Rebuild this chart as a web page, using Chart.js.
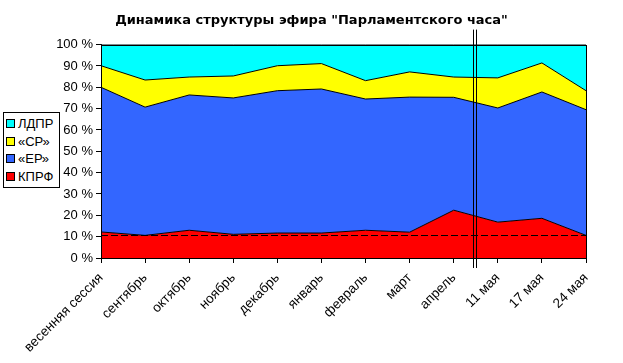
<!DOCTYPE html>
<html>
<head>
<meta charset="utf-8">
<script src="https://cdn.jsdelivr.net/npm/chart.js@4/dist/chart.umd.min.js"></script>
<style>
  html, body { margin: 0; padding: 0; background: #fff; }
  #wrap { position: relative; width: 623px; height: 363px; }
  #legend {
    position: absolute; left: 3px; top: 112px; width: 57px;
    border: 1px solid #000; background: #fff;
    font: 13px Arial, 'Liberation Sans', sans-serif; color: #000;
    padding: 2px 0 2px 2px; box-sizing: border-box;
  }
  #legend div { height: 17.5px; line-height: 17.5px; white-space: nowrap; }
  #legend span {
    display: inline-block; width: 7px; height: 7px; border: 1px solid #000;
    margin-right: 3px; vertical-align: 0px;
  }
</style>
</head>
<body>
<div id="wrap">
  <canvas id="chart" width="623" height="363"></canvas>
  <div id="legend"></div>
</div>
<script>
const LABELS = ['весенняя сессия', 'сентябрь', 'октябрь', 'ноябрь', 'декабрь', 'январь',
  'февраль', 'март', 'апрель', '11 мая', '17 мая', '24 мая']

// shares, %
const KPRF = [12.2, 10.6, 13.0, 11.1, 11.7, 11.7, 13.0, 12.1, 22.4, 16.8, 18.6, 10.6]
const ER = [67.8, 60.1, 63.4, 63.9, 66.7, 67.5, 61.5, 63.3, 52.9, 53.5, 59.2, 58.9]
const SR = [10.1, 12.7, 8.4, 10.3, 11.7, 11.9, 8.6, 11.8, 9.5, 14.1, 13.6, 8.9]
const LDPR = [9.9, 16.6, 15.2, 14.7, 9.9, 8.9, 16.9, 12.8, 15.2, 15.6, 8.6, 21.6]

const Y_TICKS = [0, 10, 20, 30, 40, 50, 60, 70, 80, 90, 100]
const DASH_LEVEL = 10.7      // dashed reference line, %
const SEPARATOR_AT = 8.45    // double line between "апрель" and "11 мая"

const RED = '#ff0000'
const BLUE = '#3366ff'
const YELLOW = '#ffff00'
const CYAN = '#00ffff'

const series = [
  { label: 'КПРФ', data: KPRF, color: RED },
  { label: '«ЕР»', data: ER, color: BLUE },
  { label: '«СР»', data: SR, color: YELLOW },
  { label: 'ЛДПР', data: LDPR, color: CYAN },
]

// legend, top to bottom
const legend = document.getElementById('legend')
for (const s of [...series].reverse()) {
  const row = document.createElement('div')
  row.innerHTML = `<span style="background:${s.color}"></span>${s.label}`
  legend.appendChild(row)
}

const extras = {
  id: 'extras',
  afterDatasetsDraw(chart) {
    const { ctx, chartArea: a, scales: { x, y } } = chart
    ctx.save()
    ctx.strokeStyle = '#000'
    ctx.lineWidth = 1

    // dashed level
    const yd = Math.round(y.getPixelForValue(DASH_LEVEL)) + 0.5
    ctx.setLineDash([7, 3])
    ctx.beginPath()
    ctx.moveTo(a.left, yd)
    ctx.lineTo(a.right, yd)
    ctx.stroke()
    ctx.setLineDash([])

    // plot border
    ctx.strokeRect(Math.round(a.left) + 0.5, Math.round(a.top) + 0.5,
      Math.round(a.right - a.left), Math.round(a.bottom - a.top))

    // double separator
    const p0 = x.getPixelForValue(8), p1 = x.getPixelForValue(9)
    const xs = Math.round(p0 + (p1 - p0) * (SEPARATOR_AT - 8))
    for (const dx of [-1, 2]) {
      ctx.beginPath()
      ctx.moveTo(xs + dx + 0.5, a.top - 15)
      ctx.lineTo(xs + dx + 0.5, a.bottom + 10)
      ctx.stroke()
    }
    ctx.restore()
  }
}

new Chart(document.getElementById('chart'), {
  type: 'line',
  data: {
    labels: LABELS,
    datasets: series.map((s, i) => ({
      label: s.label,
      data: s.data,
      backgroundColor: s.color,
      borderColor: '#000',
      borderWidth: 1,
      pointRadius: 0,
      tension: 0,
      fill: i === 0 ? 'origin' : '-1',
    })),
  },
  options: {
    responsive: false,
    animation: false,
    events: [],
    layout: { padding: 0 },
    scales: {
      x: {
        offset: false,
        grid: { display: true, drawOnChartArea: false, color: '#000', tickLength: 5 },
        border: { display: true, color: '#000' },
        ticks: {
          autoSkip: false, maxRotation: 45, minRotation: 45, color: '#000', padding: 7,
          font: { family: "Arial, 'Liberation Sans', sans-serif", size: 13.5 },
        },
        afterFit: s => { s.height = 105 },
      },
      y: {
        stacked: true,
        min: 0,
        max: 100,
        afterBuildTicks: s => { s.ticks = Y_TICKS.map(v => ({ value: v })) },
        grid: { display: true, drawOnChartArea: false, color: '#000', tickLength: 5 },
        border: { display: true, color: '#000' },
        ticks: {
          color: '#000', padding: 3,
          font: { family: "Arial, 'Liberation Sans', sans-serif", size: 13 },
          callback: v => v + ' %',
        },
        afterFit: s => { s.width = 101 },
      },
      // empty right margin, keeps the title centred on the whole canvas
      spacer: {
        position: 'right',
        grid: { display: false },
        border: { display: false },
        ticks: { display: false },
        afterFit: s => { s.width = 37 },
      },
    },
    plugins: {
      legend: { display: false },
      tooltip: { enabled: false },
      title: {
        display: true,
        text: 'Динамика структуры эфира "Парламентского часа"',
        color: '#000',
        font: { family: "'DejaVu Sans', sans-serif", size: 13, weight: 'bold' },
        padding: { top: 13, bottom: 16 },
      },
    },
  },
  plugins: [extras],
})
</script>
</body>
</html>
